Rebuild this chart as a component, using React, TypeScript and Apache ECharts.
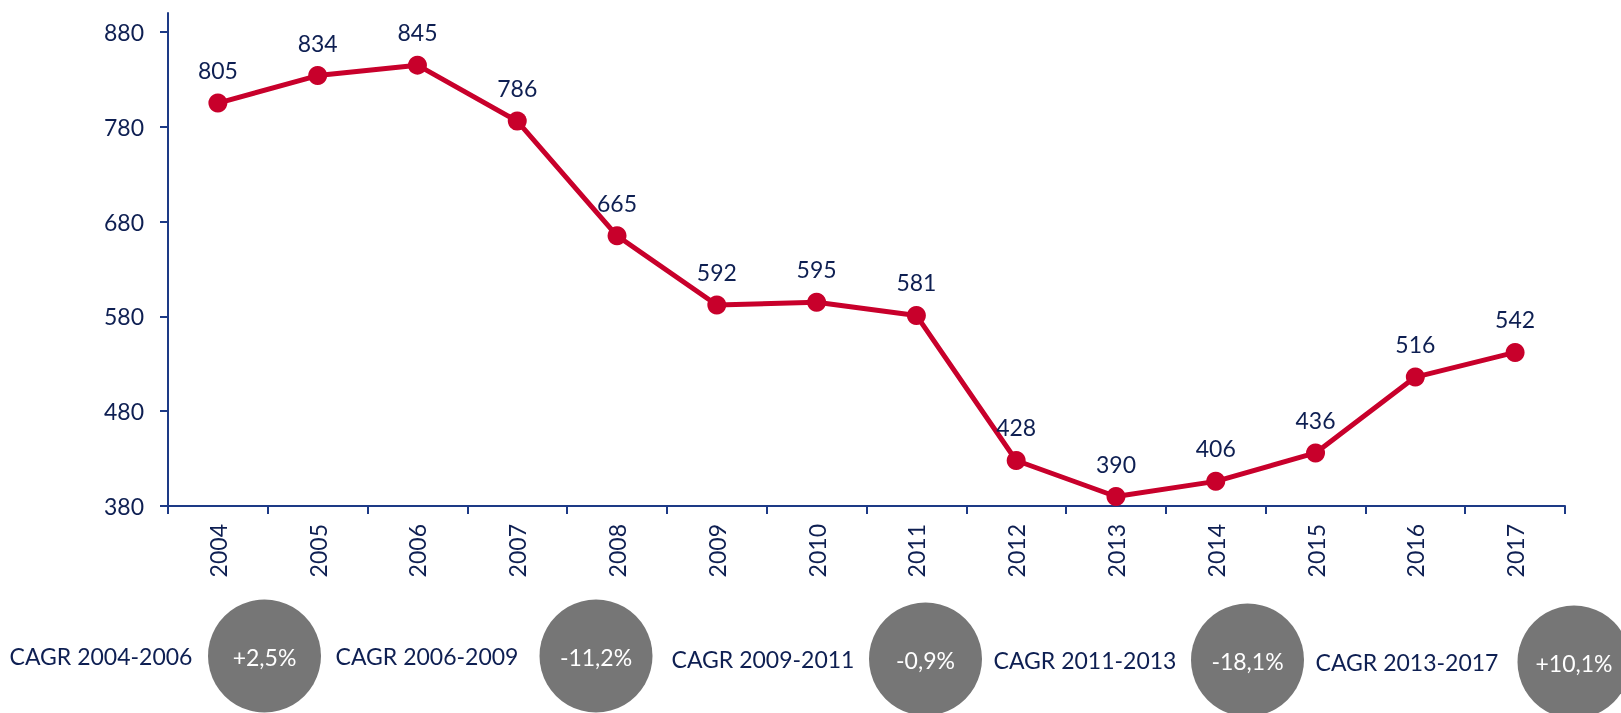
import React, { useEffect, useRef } from "react";
import * as echarts from "echarts";

const years = ["2004", "2005", "2006", "2007", "2008", "2009", "2010", "2011", "2012", "2013", "2014", "2015", "2016", "2017"];
const values = [805, 834, 845, 786, 665, 592, 595, 581, 428, 390, 406, 436, 516, 542];
const yTicks = [380, 480, 580, 680, 780, 880];
const cagrPeriods = ["CAGR 2004-2006", "CAGR 2006-2009", "CAGR 2009-2011", "CAGR 2011-2013", "CAGR 2013-2017"];
const cagrValues = ["+2,5%", "-11,2%", "-0,9%", "-18,1%", "+10,1%"];

// layout of the CAGR row (pixels)
const textCx = [101, 427, 763, 1085, 1407];
const circleCx = [264.5, 596, 925.5, 1247.5, 1574];
const rowCy = [656, 656, 659, 660, 662];
const R = 56.5;

const NAVY = "#0e1f52";
const AXIS = "#1d3a86";
const RED = "#c8002b";
const FONT = "Lato";
const FS = 23;

export default function App() {
  const ref = useRef<HTMLDivElement>(null);
  useEffect(() => {
    if (!ref.current) return;
    const chart = echarts.init(ref.current, null, { renderer: "svg" });
    const graphic: any[] = [];
    cagrPeriods.forEach((p, i) => {
      graphic.push({
        type: "text",
        x: textCx[i],
        y: rowCy[i],
        style: { text: p, fill: NAVY, font: `${FS}px ${FONT}`, textAlign: "center", textVerticalAlign: "middle" },
      });
      graphic.push({
        type: "circle",
        shape: { cx: circleCx[i], cy: rowCy[i], r: R },
        style: { fill: "#767676" },
      });
      graphic.push({
        type: "text",
        x: circleCx[i],
        y: rowCy[i] + 1,
        style: { text: cagrValues[i], fill: "#ffffff", font: `${FS}px ${FONT}`, textAlign: "center", textVerticalAlign: "middle" },
      });
    });
    chart.setOption({
      animation: false,
      textStyle: { fontFamily: FONT },
      grid: { left: 168, right: 56, top: 13, bottom: 207, containLabel: false },
      xAxis: {
        type: "category",
        data: years,
        boundaryGap: true,
        axisLine: { show: true, lineStyle: { color: AXIS, width: 2 } },
        axisTick: { show: true, length: 8, inside: false, alignWithLabel: false, lineStyle: { color: AXIS, width: 2 } },
        axisLabel: { rotate: 90, margin: 18, color: NAVY, fontSize: FS, fontFamily: FONT, interval: 0 },
        splitLine: { show: false },
      },
      yAxis: {
        type: "value",
        min: 380,
        max: 900,
        axisLine: { show: true, lineStyle: { color: AXIS, width: 2 } },
        axisTick: { show: true, length: 8, inside: false, customValues: yTicks, lineStyle: { color: AXIS, width: 2 } },
        axisLabel: { customValues: yTicks, margin: 24, color: NAVY, fontSize: FS, fontFamily: FONT },
        splitLine: { show: false },
      },
      series: [
        {
          type: "line",
          data: values,
          symbol: "circle",
          symbolSize: 19,
          lineStyle: { color: RED, width: 5 },
          itemStyle: { color: RED },
          label: { show: true, position: "top", distance: 12, color: NAVY, fontSize: FS, fontFamily: FONT },
        },
      ],
      graphic,
    });
    return () => chart.dispose();
  }, []);
  return <div ref={ref} style={{ position: "fixed", left: 0, top: 0, width: 1621, height: 713 }} />;
}
